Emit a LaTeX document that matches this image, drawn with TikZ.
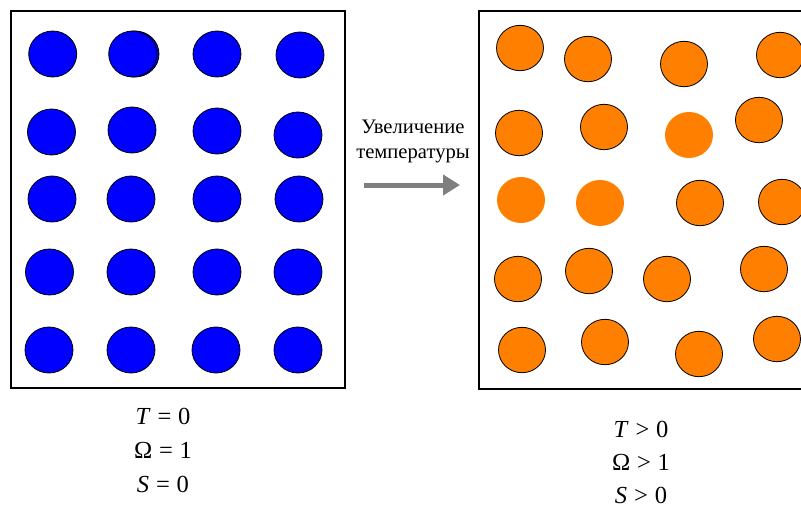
\documentclass[tikz,border=0pt]{standalone}
\usepackage{fontspec}
\setmainfont{Liberation Serif}
\usetikzlibrary{arrows.meta}
\definecolor{ballblue}{HTML}{0000FF}
\definecolor{ballorange}{HTML}{FF8000}
\definecolor{arrowgray}{HTML}{7F7F7F}
\newcommand{\opsp}{\hspace{0.28em}}
\tikzset{
  frame/.style={line width=2pt, draw=black},
  blueball/.style={fill=ballblue, draw=black, line width=0.8pt},
  orangeball/.style={fill=ballorange, draw=black, line width=0.8pt},
  orangeplain/.style={fill=ballorange, draw=none},
  lbltxt/.style={font=\fontsize{24.5}{28}\selectfont, anchor=base, inner sep=0pt},
  captxt/.style={font=\fontsize{20.6}{24}\selectfont, anchor=base, inner sep=0pt},
}
\begin{document}
\begin{tikzpicture}[x=1pt,y=-1pt]
\useasboundingbox (0,0) rectangle (801,509);
\clip (0,0) rectangle (801,509);
% left frame
\draw[frame] (10.5,11) rectangle (344.5,388);
% blue balls
\foreach \x/\y in {52.7/54, 300/55,
                   51.5/132, 132/130, 217/131, 298/135,
                   52/199, 131/199, 217/199, 299/199,
                   49.5/272, 131/272, 217/272, 298/272,
                   49/350, 131/350, 216/350, 298/350}
  \draw[blueball] (\x,\y) ellipse [x radius=24, y radius=23];
\draw[blueball] (135,54) ellipse [x radius=24, y radius=23];
\draw[blueball] (132.7,54) ellipse [x radius=24, y radius=23];
\draw[blueball] (217,54) ellipse [x radius=24, y radius=23];
% right frame (open on the right, cut by the page edge)
\draw[frame] (810,11) -- (478.5,11) -- (478.5,388.5) -- (810,388.5);
% orange balls
\foreach \x/\y in {520/48, 588/59, 684/64, 780/55,
                   519/133, 604/127, 759/120,
                   700/203, 782/202,
                   518/279, 589/271, 667/279, 764/269,
                   522/350, 605/342, 699/354, 777/339}
  \draw[orangeball] (\x,\y) ellipse [x radius=23.5, y radius=22.7];
\foreach \x/\y in {689/135, 521/200, 600/203}
  \fill[orangeplain] (\x,\y) ellipse [x radius=24, y radius=23];
% arrow and caption
\node[captxt] (capA) at (413,133) {Увеличение};
\node[captxt] (capB) at (413,158) {температуры};
\coordinate (arrS) at (364,185);
\coordinate (arrE) at (460,185);
\draw[arrowgray, line width=5pt, -{Triangle[length=17pt,width=20pt]}] (arrS) -- (arrE);
% labels left
\node[lbltxt] (lT) at (163,424) {\textit{T}\opsp=\opsp0};
\node[lbltxt] (lO) at (163,458) {Ω\opsp=\opsp1};
\node[lbltxt] (lS) at (163,492) {\textit{S}\opsp=\opsp0};
% labels right
\node[lbltxt] (rT) at (641,437) {\textit{T}\opsp>\opsp0};
\node[lbltxt] (rO) at (641,470) {Ω\opsp>\opsp1};
\node[lbltxt] (rS) at (641,503) {\textit{S}\opsp>\opsp0};
\end{tikzpicture}
\end{document}
